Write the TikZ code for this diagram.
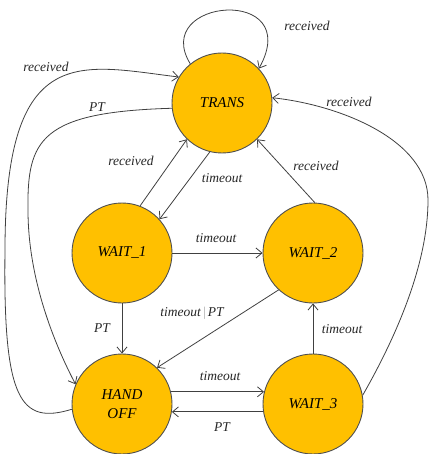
\documentclass[tikz,border=0pt]{standalone}
\usepackage{fontspec}
\setmainfont{Liberation Serif}
\usetikzlibrary{arrows.meta}
\definecolor{stfill}{HTML}{FFC000}
\definecolor{stline}{HTML}{505050}
\definecolor{edgecol}{HTML}{404040}
\tikzset{
  state/.style={circle, draw=stline, line width=0.9pt, fill=stfill, minimum size=100pt, inner sep=0pt, font=\fontsize{15}{19}\selectfont\itshape, align=center},
  trans/.style={draw=edgecol, line width=0.8pt, -{Straight Barb[length=6pt,width=10pt,line width=0.8pt]}},
  lbl/.style={font=\fontsize{13.5}{16}\selectfont\itshape, inner sep=0pt, text=black!85}
}
\begin{document}
\begin{tikzpicture}[x=1pt,y=-1pt]
\useasboundingbox (0,0) rectangle (429,454);
\node[state] (T) at (222,103) {TRANS};
\node[state] (W1) at (122,253) {WAIT\_1};
\node[state] (W2) at (313,253) {WAIT\_2};
\node[state] (H) at (122,404) {HAND\\OFF};
\node[state] (W3) at (313,404) {WAIT\_3};
% self loop
\draw[trans] (T.129) .. controls (150,-2) and (305,-15) .. (T.43);
% HANDOFF -> TRANS
\coordinate (lA) at (5,250);
\draw[trans] (H.186) .. controls (20,425) and (3,400) .. (lA) .. controls (5,40) and (80,65) .. (T.149);
% TRANS -> HANDOFF
\coordinate (lB) at (28,210);
\draw[trans] (T.186) .. controls (40,112) and (27,140) .. (lB) .. controls (28,280) and (55,345) .. (H.157);
% WAIT_3 -> TRANS
\coordinate (lC) at (428,200);
\draw[trans] (W3.10) .. controls (400,330) and (428,260) .. (lC) .. controls (428,140) and (340,105) .. (T.6);
% straight edges
\draw[trans] (W1.69) -- (T.226);
\draw[trans] (T.256) -- (W1.42);
\draw[trans] (W2.88) -- (T.314);
\draw[trans] (W1.east) -- (W2.west);
\draw[trans] (W2.227) -- (H.46);
\draw[trans] (W1.south) -- (H.north);
\draw[trans] (W3.north) -- (W2.south);
\draw[trans] (H.14) -- (W3.166);
\draw[trans] (W3.189) -- (H.351);
% labels
\node[lbl] (l1) at (307,26) {received};
\node[lbl] (l2) at (46,67) {received};
\node[lbl] (l3) at (97,107) {PT};
\node[lbl] (l4) at (131,161) {received};
\node[lbl] (l5) at (222,178) {timeout};
\node[lbl] (l6) at (316,166) {received};
\node[lbl] (l7) at (349,102) {received};
\node[lbl] (l8) at (216,238) {timeout};
\node[lbl] (l9) at (192,313) {timeout\,{\color{black!35}\upshape|}\,PT};
\node[lbl] (l10) at (102,328) {PT};
\node[lbl] (l11) at (342,329) {timeout};
\node[lbl] (l12) at (220,376) {timeout};
\node[lbl] (l13) at (222,427) {PT};
\end{tikzpicture}
\end{document}
